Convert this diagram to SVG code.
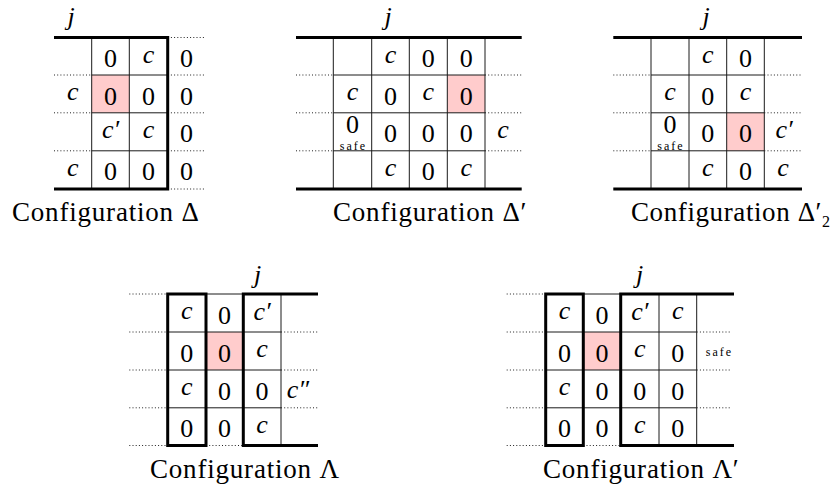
<svg xmlns="http://www.w3.org/2000/svg" width="832" height="488" viewBox="0 0 832 488">
<style>
.thick{fill:none;stroke:#000;stroke-width:3;stroke-linejoin:miter}
.thin{fill:none;stroke:#1a1a1a;stroke-width:1}
.dot{fill:none;stroke:#222;stroke-width:1;stroke-dasharray:1 2.2}
.pink{fill:#ffcccc;stroke:none}
text{font-family:'Liberation Serif','DejaVu Serif',serif;fill:#000}
.n{font-size:26px;text-anchor:middle}
.v{font-size:26px;font-style:italic;text-anchor:middle}
.s{font-size:12px;letter-spacing:2px;text-anchor:middle}
.cap{font-size:27px;letter-spacing:0.8px}
</style>

<!-- Configuration Delta -->
<g id="config-delta">
  <rect class="pink" x="91.7" y="75" width="37.6" height="37.8"/>
  <path class="thin" d="M91.7 37.5V189M129.3 37.5V189M91.7 75H167.7M91.7 112.8H167.7M91.7 150.8H167.7"/>
  <path class="dot" d="M54 75H91.7M54 112.8H91.7M54 150.8H91.7M167.7 37.5H205M167.7 75H205M167.7 112.8H205M167.7 150.8H205M167.7 189H205"/>
  <path class="thick" d="M54 37.5H167.7V189H54"/>
  <text class="v" x="71" y="25">j</text>
  <text class="n" x="110.5" y="67">0</text><text class="v" x="148.5" y="62.5">c</text><text class="n" x="186.5" y="67">0</text>
  <text class="v" x="72.8" y="100">c</text><text class="n" x="110.5" y="104.5">0</text><text class="n" x="148.5" y="104.5">0</text><text class="n" x="186.5" y="104.5">0</text>
  <text class="v" x="110.5" y="137.5">c′</text><text class="v" x="148.5" y="137.8">c</text><text class="n" x="186.5" y="142.3">0</text>
  <text class="v" x="72.8" y="175.8">c</text><text class="n" x="110.5" y="180.3">0</text><text class="n" x="148.5" y="180.3">0</text><text class="n" x="186.5" y="180.3">0</text>
  <text class="cap" x="12" y="221">Configuration Δ</text>
</g>

<!-- Configuration Delta' -->
<g id="config-delta-prime">
  <rect class="pink" x="447.3" y="75" width="37.7" height="37.8"/>
  <path class="thin" d="M333.3 37.5V189M371.7 37.5V189M409.3 37.5V189M447.3 37.5V189M485 37.5V189M333.3 75H485M333.3 112.8H485M333.3 150.8H485"/>
  <path class="dot" d="M296 75H333.3M296 112.8H333.3M296 150.8H333.3M485 75H521.7M485 112.8H521.7M485 150.8H521.7"/>
  <path class="thick" d="M296 37.5H521.7M296 189H521.7"/>
  <text class="v" x="388" y="25">j</text>
  <text class="v" x="390.5" y="62.5">c</text><text class="n" x="428.3" y="67">0</text><text class="n" x="466.2" y="67">0</text>
  <text class="v" x="352.5" y="100">c</text><text class="n" x="390.5" y="104.5">0</text><text class="v" x="428.3" y="100">c</text><text class="n" x="466.2" y="104.5">0</text>
  <text class="n" x="352.5" y="133">0</text><text class="s" x="353.5" y="149.5">safe</text>
  <text class="n" x="390.5" y="142.3">0</text><text class="n" x="428.3" y="142.3">0</text><text class="n" x="466.2" y="142.3">0</text><text class="v" x="503" y="137.8">c</text>
  <text class="v" x="390.5" y="175.8">c</text><text class="n" x="428.3" y="180.3">0</text><text class="v" x="466.2" y="175.8">c</text>
  <text class="cap" x="333" y="221">Configuration Δ′</text>
</g>

<!-- Configuration Delta'_2 -->
<g id="config-delta-prime-2">
  <rect class="pink" x="726.7" y="112.8" width="37.6" height="38"/>
  <path class="thin" d="M651 37.5V189M689 37.5V189M726.7 37.5V189M764.3 37.5V189M651 75H764.3M651 112.8H764.3M651 150.8H764.3"/>
  <path class="dot" d="M613.3 75H651M613.3 112.8H651M613.3 150.8H651M764.3 75H802M764.3 112.8H802M764.3 150.8H802"/>
  <path class="thick" d="M613.3 37.5H802M613.3 189H802"/>
  <text class="v" x="706" y="25">j</text>
  <text class="v" x="707.8" y="62.5">c</text><text class="n" x="745.5" y="67">0</text>
  <text class="v" x="670" y="100">c</text><text class="n" x="707.8" y="104.5">0</text><text class="v" x="745.5" y="100">c</text>
  <text class="n" x="670" y="133">0</text><text class="s" x="671" y="149.5">safe</text>
  <text class="n" x="707.8" y="142.3">0</text><text class="n" x="745.5" y="142.3">0</text><text class="v" x="784" y="138">c′</text>
  <text class="v" x="707.8" y="175.8">c</text><text class="n" x="745.5" y="180.3">0</text><text class="v" x="783" y="175.8">c</text>
  <text class="cap" x="631" y="221" style="letter-spacing:0.6px">Configuration Δ<tspan>′</tspan><tspan dy="6" font-size="16px">2</tspan></text>
</g>

<!-- Configuration Lambda -->
<g id="config-lambda">
  <rect class="pink" x="206" y="332" width="37.3" height="38"/>
  <path class="thin" d="M281 294V445.5M206 294H243.3M167.7 332H281M167.7 370H281M167.7 407.8H281"/>
  <path class="dot" d="M129.3 294H167.7M129.3 332H167.7M129.3 370H167.7M129.3 407.8H167.7M129.3 445.5H167.7M281 332H318M281 370H318M281 407.8H318M206 445.5H243.3"/>
  <path class="thick" d="M167.7 294H206V445.5H167.7Z"/>
  <path class="thick" d="M318 294H243.3V445.5H318"/>
  <text class="v" x="257.5" y="283">j</text>
  <text class="v" x="186.8" y="319">c</text><text class="n" x="224.6" y="323.5">0</text><text class="v" x="262.1" y="319.5">c′</text>
  <text class="n" x="186.8" y="361.5">0</text><text class="n" x="224.6" y="361.5">0</text><text class="v" x="262.1" y="357">c</text>
  <text class="v" x="186.8" y="395">c</text><text class="n" x="224.6" y="399.5">0</text><text class="n" x="262.1" y="399.5">0</text><text class="v" x="298" y="397.5">c″</text>
  <text class="n" x="186.8" y="437.2">0</text><text class="n" x="224.6" y="437.2">0</text><text class="v" x="262.1" y="432.8">c</text>
  <text class="cap" x="150" y="478">Configuration Λ</text>
</g>

<!-- Configuration Lambda' -->
<g id="config-lambda-prime">
  <rect class="pink" x="583.3" y="332" width="37.4" height="38"/>
  <path class="thin" d="M659 294V445.5M696.7 294V445.5M583.3 294H620.7M545.7 332H696.7M545.7 370H696.7M545.7 407.8H696.7"/>
  <path class="dot" d="M506.7 294H545.7M506.7 332H545.7M506.7 370H545.7M506.7 407.8H545.7M506.7 445.5H545.7M696.7 332H731.7M696.7 370H731.7M696.7 407.8H731.7M583.3 445.5H620.7"/>
  <path class="thick" d="M545.7 294H583.3V445.5H545.7Z"/>
  <path class="thick" d="M734 294H620.7V445.5H734"/>
  <text class="v" x="639.5" y="283">j</text>
  <text class="v" x="564.5" y="319">c</text><text class="n" x="602" y="323.5">0</text><text class="v" x="639.8" y="319.5">c′</text><text class="v" x="677.8" y="319">c</text>
  <text class="n" x="564.5" y="361.5">0</text><text class="n" x="602" y="361.5">0</text><text class="v" x="639.8" y="357">c</text><text class="n" x="677.8" y="361.5">0</text><text class="s" x="719.5" y="356">safe</text>
  <text class="v" x="564.5" y="395">c</text><text class="n" x="602" y="399.5">0</text><text class="n" x="639.8" y="399.5">0</text><text class="n" x="677.8" y="399.5">0</text>
  <text class="n" x="564.5" y="437.2">0</text><text class="n" x="602" y="437.2">0</text><text class="v" x="639.8" y="432.8">c</text><text class="n" x="677.8" y="437.2">0</text>
  <text class="cap" x="543" y="478">Configuration Λ′</text>
</g>
</svg>
